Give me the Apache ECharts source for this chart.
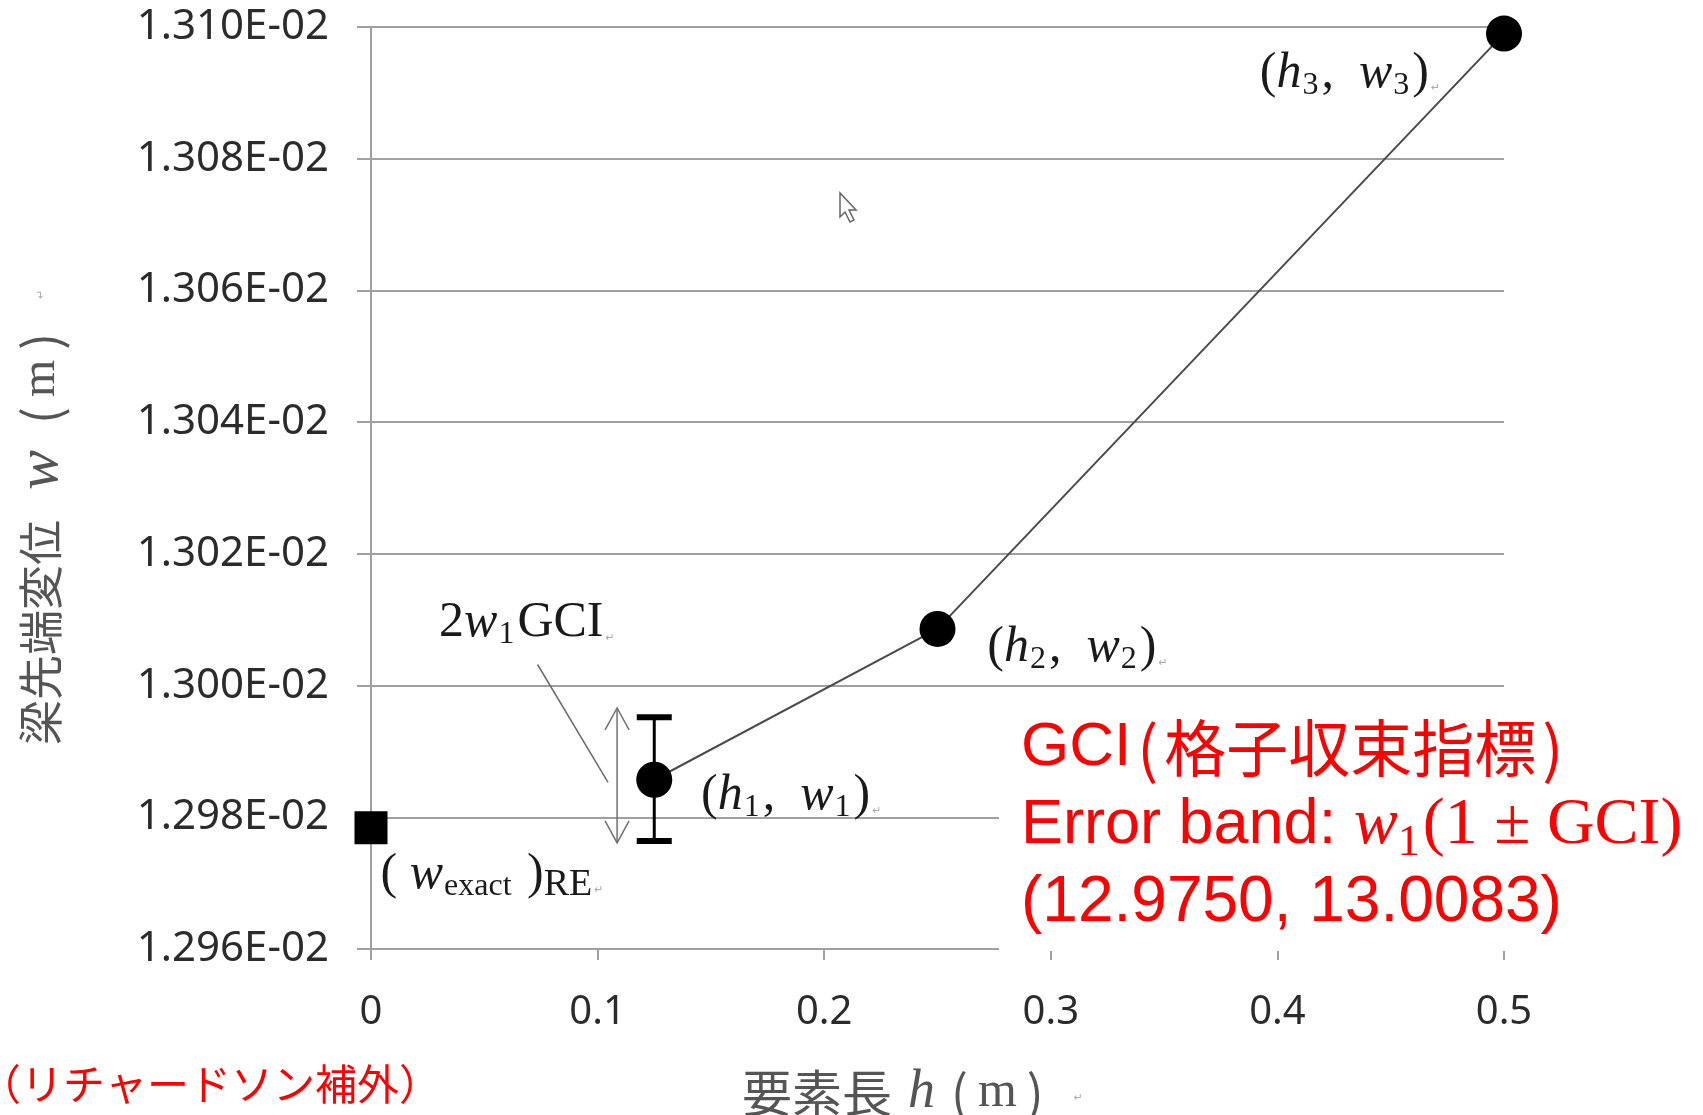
<!DOCTYPE html>
<html><head><meta charset="utf-8">
<script src="https://cdn.jsdelivr.net/npm/echarts@6/dist/echarts.min.js"></script>
<style>html,body{margin:0;padding:0;background:#fff}#c{width:1703px;height:1115px}</style>
</head><body><div id="c"></div>
<script>
// ---- data ----
const xTickLabels = ['0', '0.1', '0.2', '0.3', '0.4', '0.5'];
const yTickLabels = ['1.296E-02', '1.298E-02', '1.300E-02', '1.302E-02', '1.304E-02', '1.306E-02', '1.308E-02', '1.310E-02'];
const meshH = [0.125, 0.25, 0.5];
const meshW = [0.0129857, 0.0130086, 0.0130990];
const meshSub = ['1', '2', '3'];
const exactH = [0];
const exactW = [0.0129784];
const errH = [0.125];
const errLow = [0.0129764];
const errHigh = [0.0129952];
const arrowH = [0.1086];
const arrowLow = [0.0129761];
const arrowHigh = [0.0129966];
const leaderH = [0.0735, 0.1046];
const leaderW = [0.0130032, 0.0129853];
const noteH = [0.0688];
const noteW = [0.0130101];

const Y_MIN = 0.01296, Y_MAX = 0.0131, Y_INT = 0.00002;
const X_MIN = 0, X_MAX = 0.5, X_INT = 0.1;

const serif = 'Liberation Serif';
const ink = '#1a1a1a';
const annoRich = {
  p: {fontFamily: serif, fontSize: 50, color: ink, lineHeight: 56},
  i: {fontFamily: serif, fontStyle: 'italic', fontSize: 50, color: ink, lineHeight: 56},
  s: {fontFamily: serif, fontSize: 32, color: ink, lineHeight: 32, padding: [24, 3, 0, 1]},
  s2: {fontFamily: serif, fontSize: 38, color: ink, lineHeight: 38, padding: [20, 0, 0, 0]},
  r: {fontFamily: 'DejaVu Sans', fontSize: 11, color: '#aaa', lineHeight: 12, padding: [30, 0, 0, 2]}
};
const meshOffsets = [[137, 16], [140, 19], [-154, 40]];
const meshLabelData = meshH.map((h, i) => ({
  value: [h, meshW[i]],
  label: {
    show: true, position: 'inside', offset: meshOffsets[i],
    formatter: '{p|(}{i|h}{s|' + meshSub[i] + '}{p|,  }{i|w}{s|' + meshSub[i] + '}{p|)}{r|↵}',
    rich: annoRich
  }
}));

const chart = echarts.init(document.getElementById('c'), null, {renderer: 'canvas'});
const gridColor = '#a0a0a0';
const red = '#ff0000';
const option = {
  animation: false,
  backgroundColor: '#ffffff',
  grid: {left: 371, right: 199, top: 27, bottom: 166, containLabel: false},
  xAxis: {
    type: 'value', min: X_MIN, max: X_MAX, interval: X_INT,
    axisLine: {show: true, onZero: false, lineStyle: {color: gridColor, width: 2}},
    axisTick: {show: true, length: 11, lineStyle: {color: gridColor, width: 2}},
    splitLine: {show: false},
    axisLabel: {
      margin: 44, fontFamily: 'Noto Sans', fontSize: 40, color: '#2b2b2b',
      formatter: v => xTickLabels[Math.round((v - X_MIN) / X_INT)]
    }
  },
  yAxis: {
    type: 'value', min: Y_MIN, max: Y_MAX, interval: Y_INT,
    axisLine: {show: true, lineStyle: {color: gridColor, width: 2}},
    axisTick: {show: true, length: 14, lineStyle: {color: gridColor, width: 2}},
    splitLine: {show: true, lineStyle: {color: gridColor, width: 2}},
    axisLabel: {
      margin: 42, fontFamily: 'Noto Sans', fontSize: 42, color: '#2b2b2b',
      formatter: v => yTickLabels[Math.round((v - Y_MIN) / Y_INT)]
    }
  },
  series: [
    {
      type: 'line', name: 'leader', data: leaderH.map((h, i) => [h, leaderW[i]]),
      symbol: 'none', lineStyle: {color: '#6a6a6a', width: 1.5}, z: 3, silent: true
    },
    {
      type: 'custom', name: 'arrow', z: 3, silent: true,
      data: arrowH.map((h, i) => [h, arrowLow[i], arrowHigh[i]]),
      encode: {x: 0, y: [1, 2]},
      renderItem: (params, api) => {
        const lo = api.coord([api.value(0), api.value(1)]);
        const hi = api.coord([api.value(0), api.value(2)]);
        const hw = 12, hl = 22;
        const st = {stroke: '#707070', lineWidth: 1.5, fill: null};
        return {type: 'group', children: [
          {type: 'line', shape: {x1: lo[0], y1: lo[1], x2: hi[0], y2: hi[1]}, style: st},
          {type: 'polyline', shape: {points: [[hi[0] - hw, hi[1] + hl], [hi[0], hi[1]], [hi[0] + hw, hi[1] + hl]]}, style: st},
          {type: 'polyline', shape: {points: [[lo[0] - hw, lo[1] - hl], [lo[0], lo[1]], [lo[0] + hw, lo[1] - hl]]}, style: st}
        ]};
      }
    },
    {
      type: 'custom', name: 'errorbar', z: 4, silent: true,
      data: errH.map((h, i) => [h, errLow[i], errHigh[i]]),
      encode: {x: 0, y: [1, 2]},
      renderItem: (params, api) => {
        const lo = api.coord([api.value(0), api.value(1)]);
        const hi = api.coord([api.value(0), api.value(2)]);
        const cw = 35, ct = 6;
        return {type: 'group', children: [
          {type: 'line', shape: {x1: lo[0], y1: lo[1], x2: hi[0], y2: hi[1]}, style: {stroke: '#000', lineWidth: 3}},
          {type: 'rect', shape: {x: hi[0] - cw / 2, y: hi[1] - ct / 2, width: cw, height: ct}, style: {fill: '#000'}},
          {type: 'rect', shape: {x: lo[0] - cw / 2, y: lo[1] - ct / 2, width: cw, height: ct}, style: {fill: '#000'}}
        ]};
      }
    },
    {
      type: 'line', name: 'mesh', data: meshH.map((h, i) => [h, meshW[i]]),
      symbol: 'circle', symbolSize: 36, showSymbol: true,
      itemStyle: {color: '#000', opacity: 1},
      lineStyle: {color: '#4a4a4a', width: 2},
      z: 5, silent: true
    },
    {
      type: 'scatter', name: 'meshLabels', data: meshLabelData,
      symbolSize: 1, itemStyle: {color: 'rgba(0,0,0,0)', opacity: 1}, z: 6, silent: true
    },
    {
      type: 'scatter', name: 'exact', data: exactH.map((h, i) => [h, exactW[i]]),
      symbol: 'rect', symbolSize: 33, itemStyle: {color: '#000', opacity: 1}, z: 5, silent: true,
      label: {
        show: true, position: 'inside', offset: [121, 47], color: ink,
        formatter: '{p|( }{i|w}{s|exact}{p| )}{s2|RE}{r|↵}', rich: annoRich
      }
    },
    {
      type: 'scatter', name: 'note', data: noteH.map((h, i) => [h, noteW[i]]),
      symbolSize: 1, itemStyle: {color: 'rgba(0,0,0,0)', opacity: 1}, z: 5, silent: true,
      label: {
        show: true, position: 'inside', offset: [0, 4], color: ink,
        formatter: '{p|2}{i|w}{s|1}{p|GCI}{r|↵}', rich: annoRich
      }
    }
  ],
  graphic: [
    {type: 'rect', z: 1, shape: {x: 999, y: 690, width: 704, height: 261}, style: {fill: '#fff'}},
    {type: 'text', z: 10, x: 1021, y: 748, style: {
      text: '{a|GCI}{p|(}{c|格子収束指標}{p|)}', verticalAlign: 'middle', align: 'left',
      rich: {
        a: {fontFamily: 'Liberation Sans', fontSize: 62, fill: red},
        p: {fontFamily: 'Noto Sans CJK JP', fontSize: 62, fill: red, padding: [0, 6, 0, 6]},
        c: {fontFamily: 'Noto Sans CJK JP', fontSize: 62, fill: red}
      }}},
    {type: 'text', z: 10, x: 1021, y: 826, style: {
      text: '{a|Error band: }{m|w}{ms|1}{n|(1 ± GCI)}', verticalAlign: 'middle', align: 'left',
      rich: {
        a: {fontFamily: 'Liberation Sans', fontSize: 63, fill: red, lineHeight: 70},
        m: {fontFamily: serif, fontStyle: 'italic', fontSize: 66, fill: red, lineHeight: 70},
        ms: {fontFamily: serif, fontSize: 44, fill: red, lineHeight: 44, padding: [34, 3, 0, 0]},
        n: {fontFamily: serif, fontSize: 66, fill: red, lineHeight: 70}
      }}},
    {type: 'text', z: 10, x: 1021, y: 903, style: {
      text: '(12.9750, 13.0083)', verticalAlign: 'middle', align: 'left',
      fontFamily: 'Liberation Sans', fontSize: 64, fill: red}},
    {type: 'text', z: 10, x: -21, y: 1084, style: {
      text: '（リチャードソン補外）', verticalAlign: 'middle', align: 'left',
      fontFamily: 'Noto Sans CJK JP', fontSize: 42, fill: red}},
    {type: 'text', z: 10, x: 41, y: 749, rotation: Math.PI / 2, style: {
      text: '{c|梁先端変位}{i|w}{q|(}{m|m}{q|)}{r|↵}', verticalAlign: 'middle', align: 'left',
      rich: {
        c: {fontFamily: 'Noto Sans CJK JP', fontSize: 45, fill: '#555', padding: [0, 4, 0, 4]},
        i: {fontFamily: serif, fontStyle: 'italic', fontSize: 60, fill: '#555', padding: [0, 26, 0, 26]},
        q: {fontFamily: 'Noto Sans CJK JP', fontSize: 50, fill: '#555'},
        m: {fontFamily: serif, fontSize: 48, fill: '#555', padding: [0, 10, 0, 10]},
        r: {fontFamily: 'DejaVu Sans', fontSize: 11, fill: '#aaa', padding: [0, 0, 0, 34]}
      }}},
    {type: 'text', z: 10, x: 742, y: 1093, style: {
      text: '{c|要素長}{i|h}{c|(}{m|m}{c|)}{r|↵}', verticalAlign: 'middle', align: 'left',
      rich: {
        c: {fontFamily: 'Noto Sans CJK JP', fontSize: 50, fill: '#555'},
        i: {fontFamily: serif, fontStyle: 'italic', fontSize: 54, fill: '#555', padding: [0, 16, 0, 16]},
        m: {fontFamily: serif, fontSize: 50, fill: '#555', padding: [0, 10, 0, 10]},
        r: {fontFamily: 'DejaVu Sans', fontSize: 11, fill: '#aaa', padding: [10, 0, 0, 30]}
      }}},
    {type: 'polygon', z: 10, shape: {points: [[840, 193], [840, 217], [845, 212], [850, 222], [854, 220], [849, 210], [856, 210]]},
      style: {fill: '#fff', stroke: '#666', lineWidth: 1.5}}
  ]
};
chart.setOption(option);
</script>
</body></html>
